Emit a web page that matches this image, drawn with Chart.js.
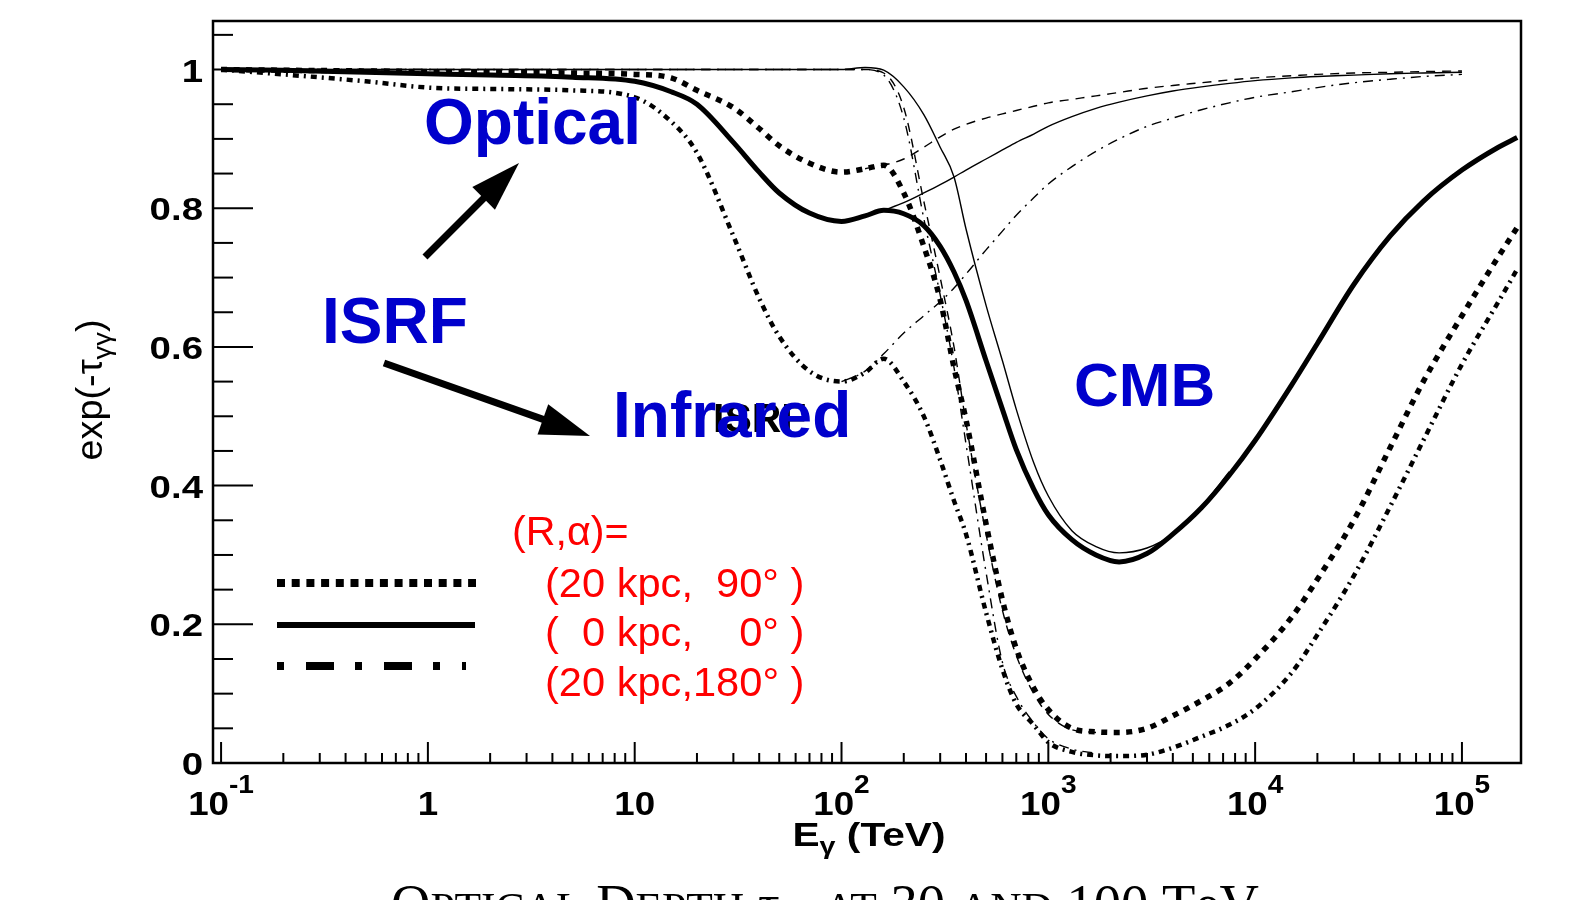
<!DOCTYPE html>
<html>
<head>
<meta charset="utf-8">
<script src="https://cdn.jsdelivr.net/npm/chart.js@4.4.6/dist/chart.umd.min.js"></script>
<style>
  html, body { margin: 0; padding: 0; background: #fff; }
  #wrap { width: 1573px; height: 900px; position: relative; }
</style>
</head>
<body>
<div id="wrap"><canvas id="chart"></canvas></div>
<script>
/* gamma-ray energy grid (TeV) */
const energy = [0.1, 0.2, 0.5, 1, 2, 5, 10, 15, 20, 30, 40, 50, 70, 100, 130, 160, 200, 250, 300, 350,
  400, 500, 600, 700, 850, 1000, 1300, 1700, 2200, 3000, 4000, 5500, 7500, 10000, 15000, 20000,
  30000, 45000, 65000, 100000, 150000, 185000];

/* total survival probability exp(-tau), thick curves */
const totalR20A90 = [1.0, 0.999, 0.998, 0.997, 0.996, 0.995, 0.993, 0.988, 0.97, 0.945, 0.915, 0.89,
  0.865, 0.852, 0.857, 0.862, 0.822, 0.745, 0.668, 0.57, 0.495, 0.345, 0.235, 0.165, 0.108, 0.077,
  0.05, 0.045, 0.044, 0.05, 0.068, 0.09, 0.115, 0.15, 0.21, 0.265, 0.35, 0.455, 0.55, 0.645, 0.73, 0.772];
const totalR0A0 = [1.0, 0.999, 0.996, 0.994, 0.992, 0.989, 0.983, 0.968, 0.95, 0.895, 0.852, 0.822,
  0.793, 0.781, 0.789, 0.797, 0.792, 0.775, 0.745, 0.708, 0.667, 0.58, 0.51, 0.452, 0.395, 0.358,
  0.322, 0.30, 0.29, 0.302, 0.33, 0.368, 0.415, 0.465, 0.545, 0.605, 0.69, 0.76, 0.81, 0.855, 0.888, 0.902];
const totalR20A180 = [1.0, 0.993, 0.983, 0.974, 0.972, 0.97, 0.96, 0.925, 0.88, 0.76, 0.67, 0.615,
  0.565, 0.55, 0.563, 0.583, 0.55, 0.5, 0.437, 0.378, 0.33, 0.217, 0.135, 0.085, 0.055, 0.03,
  0.016, 0.011, 0.01, 0.012, 0.022, 0.038, 0.055, 0.078, 0.13, 0.185, 0.27, 0.37, 0.465, 0.575, 0.665, 0.712];

/* ISRF only, thin curves */
const isrfR20A90 = [null, null, null, null, null, null, null, null, null, null, null, null, null, null,
  0.857, 0.862, 0.871, 0.888, 0.903, 0.914, 0.921, 0.93, 0.936, 0.941, 0.947, 0.952, 0.957, 0.962,
  0.967, 0.973, 0.977, 0.981, 0.985, 0.988, 0.991, 0.993, 0.995, 0.996, 0.997, 0.998, null, null];
const isrfR0A0 = [null, null, null, null, null, null, null, null, null, null, null, null, null, null, null,
  0.797, 0.808, 0.822, 0.834, 0.845, 0.855, 0.871, 0.884, 0.895, 0.907, 0.918, 0.932, 0.944,
  0.953, 0.962, 0.969, 0.975, 0.98, 0.984, 0.988, 0.99, 0.992, 0.994, 0.995, 0.996, null, null];
const isrfR20A180 = [null, null, null, null, null, null, null, null, null, null, null, null, null,
  0.55, 0.565, 0.59, 0.62, 0.645, 0.665, 0.685, 0.705, 0.74, 0.767, 0.79, 0.815, 0.835, 0.86, 0.882,
  0.9, 0.918, 0.93, 0.942, 0.952, 0.96, 0.968, 0.974, 0.981, 0.986, 0.99, 0.993, null, null];

/* CMB only, thin curves */
const cmbR0 = [1.0, 1.0, 1.0, 1.0, 1.0, 1.0, 1.0, 1.0, 1.0, 1.0, 1.0, 1.0, 1.0, 1.0, 1.003, 0.999,
  0.975, 0.935, 0.888, 0.845, 0.77, 0.66, 0.58, 0.51, 0.433, 0.385, 0.335, 0.312, 0.303, 0.31, 0.33,
  0.37, 0.42, null, null, null, null, null, null, null, null, null];
const cmbR20a = [1.0, 1.0, 1.0, 1.0, 1.0, 1.0, 1.0, 1.0, 1.0, 1.0, 1.0, 1.0, 1.0, 1.0, 1.0, 0.992,
  0.93, 0.785, 0.675, 0.57, 0.46, 0.275, 0.145, 0.096, 0.058, 0.035, 0.02, 0.014,
  null, null, null, null, null, null, null, null, null, null, null, null, null, null];
const cmbR20b = [1.0, 1.0, 1.0, 1.0, 1.0, 1.0, 1.0, 1.0, 1.0, 1.0, 1.0, 1.0, 1.0, 1.0, 1.0, 0.995,
  0.945, 0.81, 0.7, 0.6, 0.49, 0.33, 0.22, 0.155, 0.1, 0.07, 0.048, 0.044,
  null, null, null, null, null, null, null, null, null, null, null, null, null, null];

/* axis ticks */
const yTickValues = [0, 0.2, 0.4, 0.6, 0.8, 1];
const yTickLabels = ['0', '0.2', '0.4', '0.6', '0.8', '1'];
const xTickValues = [0.1, 1, 10, 100, 1000, 10000, 100000];
const xTickBase = ['10', '1', '10', '10', '10', '10', '10'];
const xTickExp = ['-1', '', '', '2', '3', '4', '5'];

/* legend text */
const legendHead = '(R,\u03b1)=';
const legendRows = ['(20 kpc,  90\u00b0 )', '(  0 kpc,    0\u00b0 )', '(20 kpc,180\u00b0 )'];

const SANS = '"Liberation Sans", Arial, Helvetica, sans-serif';
const SERIF = '"Liberation Serif", "Times New Roman", serif';

function pts(arr) {
  return energy.map((e, i) => ({ x: e, y: arr[i] })).filter(p => p.y !== null);
}

function line(ctx, x1, y1, x2, y2) {
  ctx.beginPath(); ctx.moveTo(x1, y1); ctx.lineTo(x2, y2); ctx.stroke();
}

function arrow(ctx, x1, y1, x2, y2) {
  const ang = Math.atan2(y2 - y1, x2 - x1);
  const len = 50, hw = 16;
  const bx = x2 - len * Math.cos(ang), by = y2 - len * Math.sin(ang);
  ctx.lineWidth = 7;
  line(ctx, x1, y1, bx + 4 * Math.cos(ang), by + 4 * Math.sin(ang));
  ctx.beginPath();
  ctx.moveTo(x2, y2);
  ctx.lineTo(bx + hw * Math.sin(ang), by - hw * Math.cos(ang));
  ctx.lineTo(bx - hw * Math.sin(ang), by + hw * Math.cos(ang));
  ctx.closePath();
  ctx.fill();
}

// text pieces drawn one after another: [text, font, dy]
function runs(ctx, x, y, parts) {
  let cx = x;
  for (const [t, f, dy] of parts) {
    ctx.font = f;
    ctx.fillText(t, cx, y + (dy || 0));
    cx += ctx.measureText(t).width;
  }
  return cx;
}
function runsWidth(ctx, parts) {
  let w = 0;
  for (const [t, f] of parts) { ctx.font = f; w += ctx.measureText(t).width; }
  return w;
}
// same, squeezed/stretched horizontally by sx (ROOT fonts look wider)
function wideRuns(ctx, x, y, parts, sx) {
  ctx.save();
  ctx.translate(x, y);
  ctx.scale(sx, 1);
  runs(ctx, 0, 0, parts);
  ctx.restore();
}

const whiteBg = {
  id: 'whiteBg',
  beforeDraw(chart) {
    const c = chart.ctx;
    c.save(); c.fillStyle = '#fff'; c.fillRect(0, 0, chart.width, chart.height); c.restore();
  }
};

const rootFrame = {
  id: 'rootFrame',
  afterDraw(chart) {
    const ctx = chart.ctx, a = chart.chartArea;
    const xs = chart.scales.x, ys = chart.scales.y;
    ctx.save();
    ctx.strokeStyle = '#000'; ctx.fillStyle = '#000';
    ctx.textAlign = 'left'; ctx.textBaseline = 'alphabetic';

    // frame
    ctx.lineWidth = 2.5;
    ctx.strokeRect(a.left, a.top, a.right - a.left, a.bottom - a.top);

    // y ticks (inside)
    ctx.lineWidth = 2;
    for (let i = 0; i <= 21; i++) {
      const py = ys.getPixelForValue(i * 0.05);
      line(ctx, a.left, py, a.left + (i % 4 === 0 ? 40 : 20), py);
    }
    // x ticks (inside)
    for (let d = -1; d <= 5; d++) {
      for (let m = 1; m <= 9; m++) {
        const v = m * Math.pow(10, d);
        if (v < xs.min || v > xs.max) continue;
        const px = xs.getPixelForValue(v);
        line(ctx, px, a.bottom, px, a.bottom - (m === 1 ? 21 : 10));
      }
    }

    // y tick labels
    yTickValues.forEach((v, i) => {
      const parts = [[yTickLabels[i], 'bold 32px ' + SANS, 0]];
      const w = runsWidth(ctx, parts) * 1.2;
      wideRuns(ctx, a.left - 10 - w, ys.getPixelForValue(v) + 12, parts, 1.2);
    });

    // x tick labels with exponents
    xTickValues.forEach((v, i) => {
      const parts = [[xTickBase[i], 'bold 34px ' + SANS, 0]];
      if (xTickExp[i]) parts.push([xTickExp[i], 'bold 26px ' + SANS, -22]);
      const w = runsWidth(ctx, parts) * 1.08;
      wideRuns(ctx, xs.getPixelForValue(v) - w / 2, 815, parts, 1.08);
    });

    // x title
    const xt = [['E', 'bold 34px ' + SANS, 0], ['\u03b3', 'bold 24px ' + SANS, 8], [' (TeV)', 'bold 34px ' + SANS, 0]];
    const xsx = 153 / runsWidth(ctx, xt);
    wideRuns(ctx, 869 - 76.5, 846, xt, xsx);

    // y title
    ctx.save();
    ctx.translate(102, 390);
    ctx.rotate(-Math.PI / 2);
    const yt = [['exp(-\u03c4', '36px ' + SANS, 0], ['\u03b3\u03b3', '26px ' + SANS, 9], [')', '36px ' + SANS, 0]];
    const ysx = 141 / runsWidth(ctx, yt);
    wideRuns(ctx, -70.5, 0, yt, ysx);
    ctx.restore();

    // annotations
    ctx.font = 'bold 41px ' + SANS;
    ctx.fillStyle = '#000';
    ctx.fillText('ISRF', 713, 432);
    ctx.fillStyle = '#0000cc';
    ctx.font = 'bold 64px ' + SANS;
    ctx.fillText('Optical', 424, 144);
    ctx.fillText('ISRF', 322, 343);
    ctx.fillText('Infrared', 613, 437);
    ctx.font = 'bold 62px ' + SANS;
    ctx.fillText('CMB', 1074, 406);

    ctx.fillStyle = '#000'; ctx.strokeStyle = '#000';
    arrow(ctx, 425, 257, 519, 163);
    arrow(ctx, 384, 363, 590, 436);

    // legend
    ctx.fillStyle = '#ff0000';
    wideRuns(ctx, 512, 545, [[legendHead, '40px ' + SANS, 0]], 1.03);
    const rowY = [597, 646, 696];
    legendRows.forEach((t, i) => wideRuns(ctx, 545, rowY[i], [[t, '40px ' + SANS, 0]], 1.04));

    ctx.strokeStyle = '#000';
    ctx.lineCap = 'butt';
    ctx.lineWidth = 8; ctx.setLineDash([8, 6.7]);
    line(ctx, 277, 583, 476, 583);
    ctx.lineWidth = 6; ctx.setLineDash([]);
    line(ctx, 277, 625, 475, 625);
    ctx.lineWidth = 8; ctx.setLineDash([7, 22, 28, 21]);
    line(ctx, 277, 666, 466, 666);
    ctx.setLineDash([]);

    // caption under the figure, cut by the page edge
    ctx.fillStyle = '#000';
    const B = '54px ' + SERIF, S = '43px ' + SERIF, U = '34px ' + SERIF;
    const cap = [['O', B], ['PTICAL', S], [' D', B], ['EPTH', S], [' \u03c4', B], ['\u03b3\u03b3', U, 12],
      [' ', B], ['AT', S], [' 30 ', B], ['AND', S], [' 100 T', B], ['e', B], ['V', B]];
    wideRuns(ctx, 391, 922, cap, 868 / runsWidth(ctx, cap));

    ctx.restore();
  }
};

const thick = { borderColor: '#000', pointRadius: 0, cubicInterpolationMode: 'monotone', order: 0 };
const thin = { borderColor: '#000', pointRadius: 0, cubicInterpolationMode: 'monotone', order: 1, borderWidth: 1.4 };

new Chart(document.getElementById('chart'), {
  type: 'line',
  data: {
    datasets: [
      { ...thick, label: '(20 kpc, 90)', data: pts(totalR20A90), borderWidth: 5.5, borderDash: [6, 6.5] },
      { ...thick, label: '(0 kpc, 0)', data: pts(totalR0A0), borderWidth: 5 },
      { ...thick, label: '(20 kpc, 180)', data: pts(totalR20A180), borderWidth: 4.5, borderDash: [6, 5, 2, 5] },
      { ...thin, label: 'ISRF 20/90', data: pts(isrfR20A90), borderDash: [9, 7] },
      { ...thin, label: 'ISRF 0/0', data: pts(isrfR0A0) },
      { ...thin, label: 'ISRF 20/180', data: pts(isrfR20A180), borderDash: [10, 6, 2, 6] },
      { ...thin, label: 'CMB 0', data: pts(cmbR0) },
      { ...thin, label: 'CMB 20 a', data: pts(cmbR20a), borderDash: [10, 6, 2, 6] },
      { ...thin, label: 'CMB 20 b', data: pts(cmbR20b), borderDash: [9, 7] }
    ]
  },
  options: {
    responsive: true,
    maintainAspectRatio: false,
    animation: false,
    events: [],
    layout: { padding: { left: 213, right: 52, top: 21, bottom: 137 } },
    plugins: { legend: { display: false }, tooltip: { enabled: false }, title: { display: false } },
    scales: {
      x: { type: 'logarithmic', min: 0.0914, max: 193000, display: false },
      y: { type: 'linear', min: 0, max: 1.07, display: false }
    }
  },
  plugins: [whiteBg, rootFrame]
});
</script>
</body>
</html>
